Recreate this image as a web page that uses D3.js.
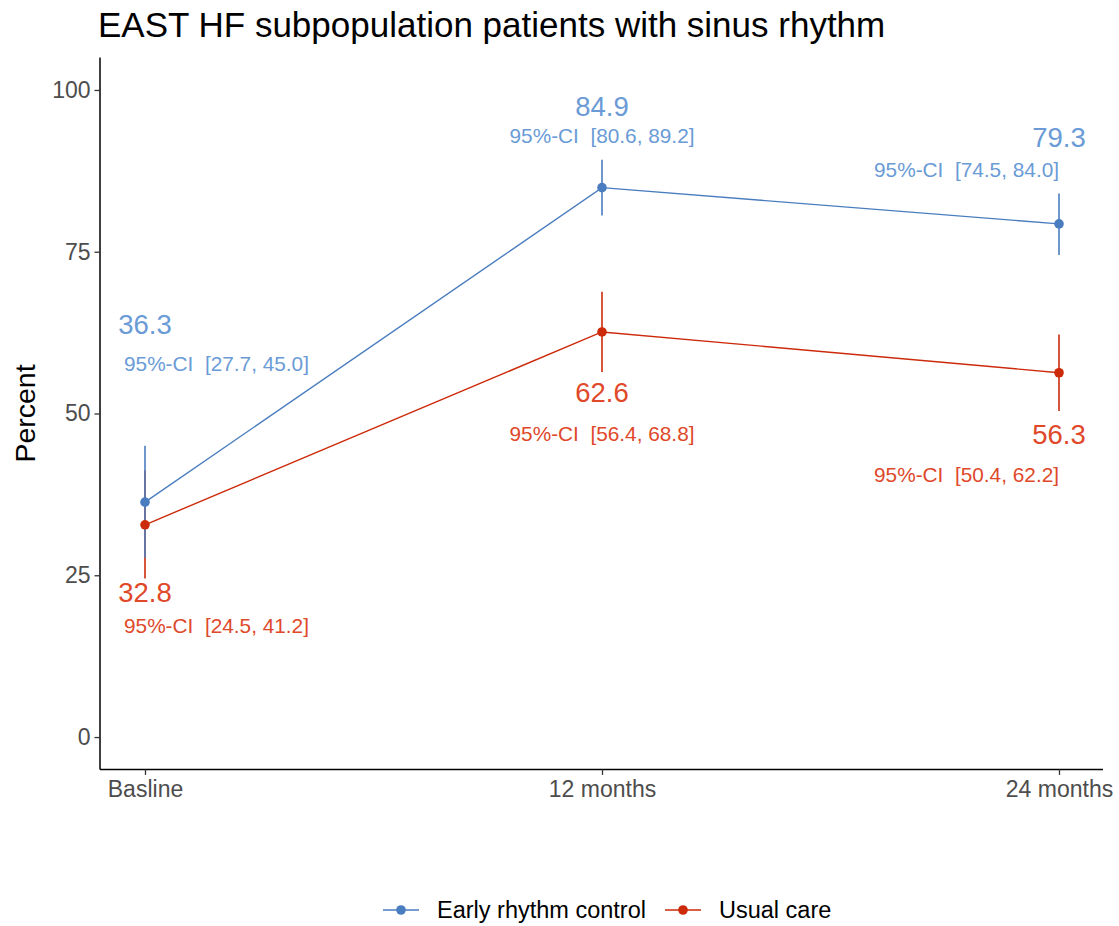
<!DOCTYPE html>
<html>
<head>
<meta charset="utf-8">
<script src="https://cdn.jsdelivr.net/npm/d3@7"></script>
<style>
  html, body { margin: 0; padding: 0; background: #ffffff; }
  svg { display: block; font-family: "Liberation Sans", Arial, sans-serif; }
</style>
</head>
<body>
<svg id="chart" width="1119" height="926"></svg>
<script>
// Time points and the two treatment arms
const timepoints = ["Basline", "12 months", "24 months"];
const seriesNames = ["Early rhythm control", "Usual care"];

// Percent of patients in sinus rhythm with 95% confidence limits
const earlyValues = [36.3, 84.9, 79.3];
const earlyLower  = [27.7, 80.6, 74.5];
const earlyUpper  = [45.0, 89.2, 84.0];

const usualValues = [32.8, 62.6, 56.3];
const usualLower  = [24.5, 56.4, 50.4];
const usualUpper  = [41.2, 68.8, 62.2];

const yTicks = [0, 25, 50, 75, 100];

// Styling and annotation placement
const colors = { line: ["#4a7dbf", "#cc2a0a"], text: ["#6a9bd6", "#e0482a"] };
// label anchors (value units on the y axis) and horizontal alignment per time point
const labelLayout = [
  [ // early rhythm control
    { val: 63.7, ci: 57.7, ciAnchor: "start", ciDx: -21 },
    { val: 97.4, ci: 93.0, ciAnchor: "middle", ciDx: 0 },
    { val: 92.6, ci: 87.6, ciAnchor: "end", ciDx: 0 }
  ],
  [ // usual care
    { val: 22.3, ci: 17.2, ciAnchor: "start", ciDx: -21 },
    { val: 53.2, ci: 46.8, ciAnchor: "middle", ciDx: 0 },
    { val: 46.8, ci: 40.6, ciAnchor: "end", ciDx: 0 }
  ]
];

const series = [
  { name: seriesNames[0], values: earlyValues, lower: earlyLower, upper: earlyUpper },
  { name: seriesNames[1], values: usualValues, lower: usualLower, upper: usualUpper }
];

const svg = d3.select("#chart");
const plot = { left: 100, right: 1103, top: 57.6, bottom: 769.4 };

const x = d3.scalePoint().domain(timepoints).range([145, 1059]);
const y = d3.scaleLinear().domain([-5, 105]).range([plot.bottom, plot.top]);

// Title
svg.append("text")
  .attr("x", 98).attr("y", 37)
  .attr("font-size", 35)
  .attr("fill", "#000")
  .text("EAST HF subpopulation patients with sinus rhythm");

// Y axis
const yAxis = svg.append("g")
  .attr("transform", `translate(${plot.left},0)`)
  .call(d3.axisLeft(y).tickValues(yTicks).tickSize(5.5).tickPadding(4));
yAxis.select(".domain").attr("d", `M0,${plot.top}V${plot.bottom}`).attr("stroke", "#000").attr("stroke-width", 1.5);
yAxis.selectAll(".tick line").attr("stroke", "#333").attr("stroke-width", 1.3);
yAxis.selectAll(".tick text").attr("font-size", 23).attr("fill", "#4d4d4d").attr("font-family", "Liberation Sans, Arial, sans-serif");

// X axis
const xAxis = svg.append("g")
  .attr("transform", `translate(0,${plot.bottom})`)
  .call(d3.axisBottom(x).tickSize(5.5).tickPadding(6));
xAxis.select(".domain").attr("d", `M${plot.left},0H${plot.right}`).attr("stroke", "#000").attr("stroke-width", 1.5);
xAxis.selectAll(".tick line").attr("stroke", "#333").attr("stroke-width", 1.3);
xAxis.selectAll(".tick text").attr("font-size", 23).attr("fill", "#4d4d4d").attr("font-family", "Liberation Sans, Arial, sans-serif");

// Y axis title
svg.append("text")
  .attr("transform", `translate(35,${y(50)}) rotate(-90)`)
  .attr("text-anchor", "middle")
  .attr("font-size", 28.5)
  .attr("fill", "#000")
  .text("Percent");

// Error bars (usual care first so early rhythm control sits on top)
const bars = svg.append("g");
[1, 0].forEach(si => {
  const s = series[si];
  bars.selectAll(null)
    .data(timepoints)
    .enter().append("line")
    .attr("x1", d => x(d)).attr("x2", d => x(d))
    .attr("y1", (d, i) => y(s.lower[i]))
    .attr("y2", (d, i) => y(s.upper[i]))
    .attr("stroke", colors.line[si])
    .attr("stroke-width", 1.6);
});

// Lines and points
const line = d3.line().x(d => x(d.t)).y(d => y(d.v));
[1, 0].forEach(si => {
  const s = series[si];
  const pts = timepoints.map((t, i) => ({ t, v: s.values[i] }));
  svg.append("path")
    .datum(pts)
    .attr("d", line)
    .attr("fill", "none")
    .attr("stroke", colors.line[si])
    .attr("stroke-width", 1.4);
  svg.append("g").selectAll("circle")
    .data(pts)
    .enter().append("circle")
    .attr("cx", d => x(d.t))
    .attr("cy", d => y(d.v))
    .attr("r", 4.8)
    .attr("fill", colors.line[si]);
});

// Value and confidence interval labels
series.forEach((s, si) => {
  timepoints.forEach((t, i) => {
    const lay = labelLayout[si][i];
    svg.append("text")
      .attr("x", x(t))
      .attr("y", y(lay.val))
      .attr("dy", "0.35em")
      .attr("text-anchor", "middle")
      .attr("font-size", 27.5)
      .attr("fill", colors.text[si])
      .text(s.values[i].toFixed(1));
    svg.append("text")
      .attr("x", x(t) + lay.ciDx)
      .attr("y", y(lay.ci))
      .attr("dy", "0.35em")
      .attr("text-anchor", lay.ciAnchor)
      .attr("font-size", 20.8)
      .attr("fill", colors.text[si])
      .attr("xml:space", "preserve")
      .text(`95%-CI  [${s.lower[i].toFixed(1)}, ${s.upper[i].toFixed(1)}]`);
  });
});

// Legend
const legendItems = [
  { name: seriesNames[0], x0: 383, color: colors.line[0] },
  { name: seriesNames[1], x0: 665, color: colors.line[1] }
];
const legendY = 910;
const lg = svg.append("g");
legendItems.forEach(it => {
  lg.append("line")
    .attr("x1", it.x0).attr("x2", it.x0 + 36)
    .attr("y1", legendY).attr("y2", legendY)
    .attr("stroke", it.color).attr("stroke-width", 1.6);
  lg.append("circle")
    .attr("cx", it.x0 + 18).attr("cy", legendY).attr("r", 4.8)
    .attr("fill", it.color);
  lg.append("text")
    .attr("x", it.x0 + 54).attr("y", legendY)
    .attr("dy", "0.35em")
    .attr("font-size", 23.5)
    .attr("fill", "#000")
    .text(it.name);
});
</script>
</body>
</html>
